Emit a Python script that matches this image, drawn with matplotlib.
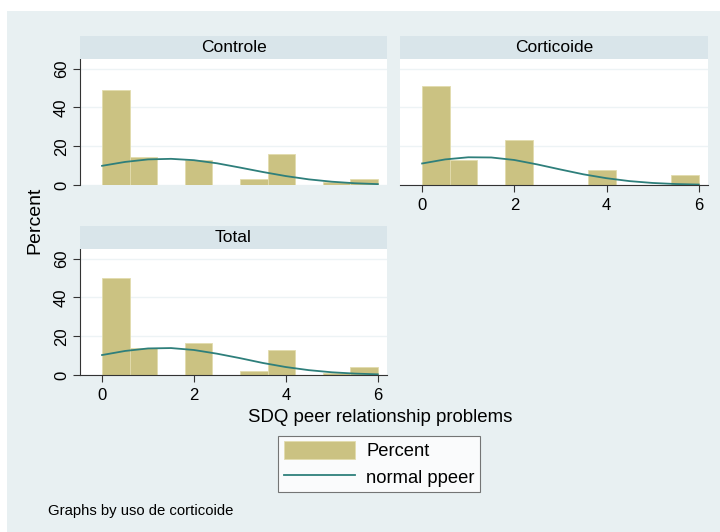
import numpy as np
import matplotlib.pyplot as plt
from matplotlib.patches import Patch, Rectangle
from matplotlib.lines import Line2D

plt.rcParams['font.family'] = ['Liberation Sans', 'DejaVu Sans']

# histogram bins (width 0.6 from 0 to 6)
bin_left = [0.0, 0.6, 1.2, 1.8, 2.4, 3.0, 3.6, 4.2, 4.8, 5.4]

# percent per bin
pct_controle = [49.2, 14.3, 0, 12.7, 0, 3.2, 15.9, 0, 1.6, 3.2]
pct_corticoide = [51.3, 12.8, 0, 23.1, 0, 0, 7.7, 0, 0, 5.1]
pct_total = [50.0, 13.7, 0, 16.7, 0, 2.0, 12.7, 0, 1.0, 3.9]

# normal overlay (percent scale)
curve_x = [0, 0.5, 1, 1.5, 2, 2.5, 3, 3.5, 4, 4.5, 5, 5.5, 6]
curve_controle = [9.9, 11.9, 13.2, 13.5, 12.8, 11.2, 9.0, 6.7, 4.6, 2.9, 1.7, 0.9, 0.45]
curve_corticoide = [11.1, 13.2, 14.3, 14.2, 12.9, 10.6, 8.0, 5.5, 3.5, 2.0, 1.05, 0.5, 0.22]
curve_total = [10.3, 12.4, 13.7, 13.9, 12.9, 11.0, 8.7, 6.2, 4.1, 2.5, 1.4, 0.73, 0.34]

yticks = [0, 20, 40, 60]
xticks = [0, 2, 4, 6]

bg = '#e8f0f2'
strip_col = '#d9e5ea'
bar_col = '#cbc282'
bar_edge = '#e2dcae'
line_col = '#2e7f7b'

W, H = 720, 532
fig = plt.figure(figsize=(7.2, 5.32), dpi=100)
fig.patch.set_facecolor('white')
fig.patches.append(Rectangle((7 / W, 0), 1, 1 - 11 / H, transform=fig.transFigure,
                             facecolor=bg, edgecolor='none', zorder=-10))


def px(x0, y0, x1, y1):
    return [x0 / W, 1 - y1 / H, (x1 - x0) / W, (y1 - y0) / H]


def panel(box, strip, title, pct, curve, show_y, show_x):
    ax = fig.add_axes(px(*box))
    ax.set_facecolor('white')
    ax.bar(bin_left, pct, width=0.6, align='edge', color=bar_col,
           edgecolor=bar_edge, linewidth=0.6, zorder=2)
    ax.plot(curve_x, curve, color=line_col, linewidth=1.3, zorder=3)
    ax.set_xlim(-0.48, 6.2)
    ax.set_ylim(0, 65)
    ax.set_yticks(yticks)
    ax.set_xticks(xticks)
    ax.grid(axis='y', color='#edf3f5', linewidth=1.0, zorder=0)
    for s in ['top', 'right']:
        ax.spines[s].set_visible(False)
    ax.spines['left'].set_visible(show_y)
    ax.spines['bottom'].set_visible(show_x)
    ax.spines['left'].set_color('#333333')
    ax.spines['bottom'].set_color('#333333')
    ax.tick_params(axis='y', left=show_y, labelleft=show_y, labelsize=12,
                   length=5, width=0.8, pad=3, labelrotation=90, color='#333333')
    ax.tick_params(axis='x', bottom=show_x, labelbottom=show_x, labelsize=12,
                   length=5, width=0.8, pad=4, color='#333333')
    for lab in ax.get_yticklabels():
        lab.set_va('center')
    sx = fig.add_axes(px(*strip))
    sx.set_facecolor(strip_col)
    sx.set_xticks([])
    sx.set_yticks([])
    for s in sx.spines.values():
        s.set_visible(False)
    sx.text(0.5, 0.5, title, ha='center', va='center', fontsize=12.5,
            transform=sx.transAxes)
    return ax


panel((80, 59, 387, 185), (80, 36, 387, 59), 'Controle',
      pct_controle, curve_controle, True, False)
panel((400, 59, 708, 185), (400, 36, 708, 59), 'Corticoide',
      pct_corticoide, curve_corticoide, False, True)
panel((80, 249, 387, 375), (80, 226, 387, 249), 'Total',
      pct_total, curve_total, True, True)

fig.text(35 / W, 1 - 220 / H, 'Percent', rotation=90, ha='center', va='center', fontsize=14)
fig.text(380 / W, 1 - 418 / H, 'SDQ peer relationship problems', ha='center', va='center',
         fontsize=13.4)

handles = [Patch(facecolor=bar_col, edgecolor=bar_edge, linewidth=0.6),
           Line2D([], [], color=line_col, linewidth=1.3)]
leg = fig.legend(handles, ['Percent', 'normal ppeer'], loc='center',
                 bbox_to_anchor=(379 / W, 1 - 464 / H), fontsize=13.2,
                 frameon=True, fancybox=False, handlelength=3.9, handleheight=1.1,
                 borderpad=0.3, labelspacing=0.4, handletextpad=0.6, borderaxespad=0)
leg.get_frame().set_edgecolor('#555555')
leg.get_frame().set_linewidth(0.8)

fig.text(48 / W, 1 - 511 / H, 'Graphs by uso de corticoide', ha='left', va='center', fontsize=10.7)

fig.savefig('out.png', dpi=100, facecolor=fig.get_facecolor())
